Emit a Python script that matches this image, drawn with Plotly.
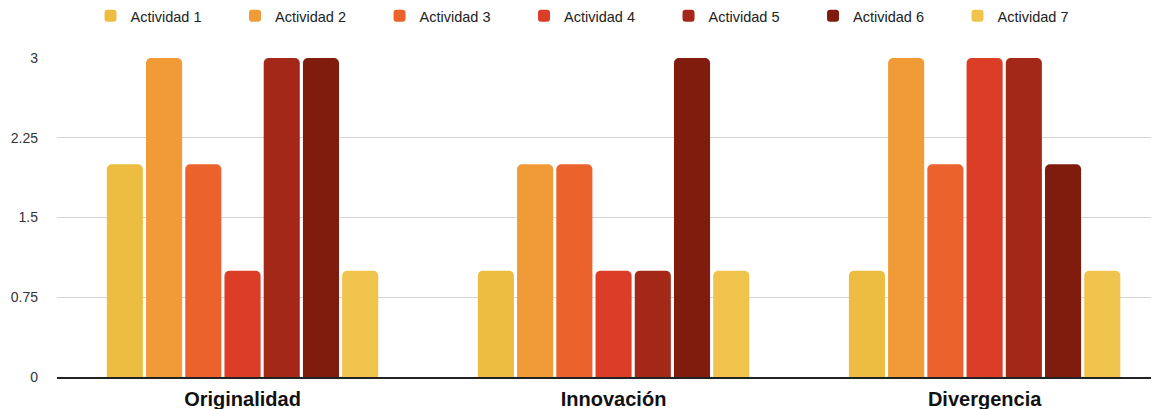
import plotly.graph_objects as go

categories = ["Originalidad", "Innovación", "Divergencia"]
series_names = ["Actividad 1", "Actividad 2", "Actividad 3", "Actividad 4",
                "Actividad 5", "Actividad 6", "Actividad 7"]
values = {
    "Actividad 1": [2, 1, 1],
    "Actividad 2": [3, 2, 3],
    "Actividad 3": [2, 2, 2],
    "Actividad 4": [1, 1, 3],
    "Actividad 5": [3, 1, 3],
    "Actividad 6": [3, 3, 2],
    "Actividad 7": [1, 1, 1],
}
colors = ["#EDBD42", "#F09A38", "#EB622D", "#DB3D26", "#A32817", "#7F1C0E", "#F0C44C"]
y_ticks = [0, 0.75, 1.5, 2.25, 3]
y_tick_labels = ["0", "0.75", "1.5", "2.25", "3"]

fig = go.Figure()
for name, col in zip(series_names, colors):
    fig.add_trace(go.Bar(name=name, x=categories, y=values[name],
                         marker=dict(color=col, line=dict(width=0))))

# the page body has an 8px default margin, so the figure is sized to fit
fig.update_layout(
    width=1151, height=401,
    margin=dict(l=49, r=0, t=50, b=32, autoexpand=False),
    paper_bgcolor="white", plot_bgcolor="white",
    barmode="group", bargap=0.26, bargroupgap=0.08,
    barcornerradius=5,
    font=dict(family="Liberation Sans, Arial, sans-serif", color="#222"),
    legend=dict(orientation="h", xref="container", yref="paper",
                x=0.0717, y=1.182, xanchor="left", yanchor="top",
                entrywidth=99.5, entrywidthmode="pixels",
                font=dict(size=14.5, color="#222"), traceorder="normal"),
    showlegend=True,
)
fig.update_xaxes(range=[-0.5, 2.47], showgrid=False, showline=True,
                 linecolor="#222", linewidth=1.5, automargin=False,
                 tickfont=dict(size=20, color="#111",
                               family="Liberation Sans, Arial, sans-serif",
                               weight="bold"),
                 ticks="", ticklabelstandoff=3)
fig.update_yaxes(range=[0, 3], tickvals=y_ticks, ticktext=y_tick_labels,
                 showgrid=True, gridcolor="#D4D4D4", gridwidth=1,
                 zeroline=False, showline=False, automargin=False,
                 tickfont=dict(size=14, color="#333"),
                 ticks="", ticklabelstandoff=18)

fig.write_html("out.html")
